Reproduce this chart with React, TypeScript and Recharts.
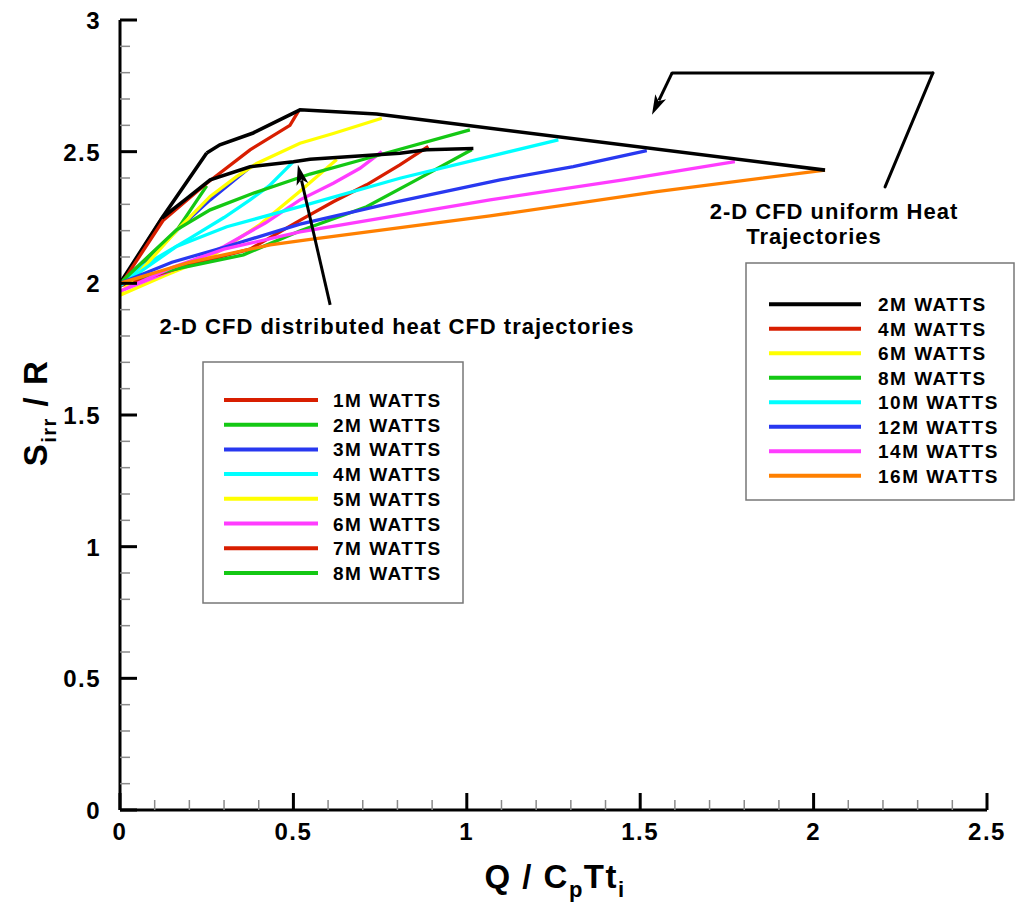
import React from 'react';
import { LineChart, Line, XAxis, YAxis, ReferenceLine } from 'recharts';

const FONT = '"Liberation Sans", Arial, Helvetica, sans-serif';

const RED = '#d81e00';
const GREEN = '#14c814';
const BLUE = '#2838f0';
const CYAN = '#00ffff';
const YELLOW = '#ffff00';
const MAGENTA = '#ff3cff';
const ORANGE = '#ff8000';
const BLACK = '#000000';

// Axis ticks
const X_TICKS = [0, 0.1, 0.2, 0.3, 0.4, 0.5, 0.6, 0.7, 0.8, 0.9, 1, 1.1, 1.2, 1.3, 1.4, 1.5, 1.6, 1.7, 1.8, 1.9, 2, 2.1, 2.2, 2.3, 2.4, 2.5];
const Y_TICKS = [0, 0.1, 0.2, 0.3, 0.4, 0.5, 0.6, 0.7, 0.8, 0.9, 1, 1.1, 1.2, 1.3, 1.4, 1.5, 1.6, 1.7, 1.8, 1.9, 2, 2.1, 2.2, 2.3, 2.4, 2.5, 2.6, 2.7, 2.8, 2.9, 3];

// 2-D CFD distributed heat trajectories
const DIST_1M_X = [0, 0.06, 0.121];
const DIST_1M_Y = [1.99, 2.12, 2.248];
const DIST_2M_X = [0, 0.08, 0.163, 0.25];
const DIST_2M_Y = [2.0, 2.09, 2.2, 2.37];
const DIST_3M_X = [0, 0.163, 0.26, 0.37];
const DIST_3M_Y = [2.0, 2.2, 2.317, 2.435];
const DIST_4M_X = [0, 0.067, 0.2, 0.3, 0.375, 0.43, 0.5];
const DIST_4M_Y = [1.99, 2.066, 2.17, 2.25, 2.317, 2.37, 2.462];
const DIST_5M_X = [0, 0.13, 0.26, 0.4, 0.519, 0.625];
const DIST_5M_Y = [1.955, 2.03, 2.1, 2.22, 2.35, 2.47];
const DIST_6M_X = [0, 0.15, 0.3, 0.42, 0.519, 0.615, 0.692, 0.755];
const DIST_6M_Y = [1.97, 2.05, 2.14, 2.23, 2.317, 2.38, 2.437, 2.5];
const DIST_7M_X = [0, 0.2, 0.375, 0.52, 0.615, 0.711, 0.807, 0.889];
const DIST_7M_Y = [1.99, 2.07, 2.13, 2.24, 2.31, 2.374, 2.45, 2.52];
const DIST_8M_X = [0, 0.18, 0.356, 0.52, 0.711, 0.855, 1.014];
const DIST_8M_Y = [2.005, 2.06, 2.108, 2.2, 2.291, 2.393, 2.507];

// 2-D CFD uniform heat trajectories
const UNI_2M_X = [0, 0.121, 0.25];
const UNI_2M_Y = [2.0, 2.248, 2.495];
const UNI_4M_X = [0, 0.125, 0.25, 0.375, 0.49, 0.515];
const UNI_4M_Y = [1.99, 2.24, 2.38, 2.507, 2.6, 2.655];
const UNI_6M_X = [0, 0.163, 0.26, 0.336, 0.394, 0.519, 0.615, 0.755];
const UNI_6M_Y = [1.96, 2.2, 2.33, 2.405, 2.455, 2.532, 2.569, 2.627];
const UNI_8M_X = [0, 0.08, 0.163, 0.26, 0.384, 0.548, 0.711, 1.009];
const UNI_8M_Y = [2.0, 2.1, 2.203, 2.279, 2.342, 2.415, 2.474, 2.583];
const UNI_10M_X = [0, 0.163, 0.308, 0.519, 0.807, 1.067, 1.264];
const UNI_10M_Y = [1.99, 2.14, 2.215, 2.291, 2.399, 2.482, 2.545];
const UNI_12M_X = [0, 0.15, 0.308, 0.519, 0.8, 1.096, 1.307, 1.519];
const UNI_12M_Y = [2.0, 2.08, 2.14, 2.225, 2.31, 2.393, 2.443, 2.504];
const UNI_14M_X = [0, 0.15, 0.3, 0.519, 1.067, 1.451, 1.773];
const UNI_14M_Y = [1.97, 2.06, 2.13, 2.195, 2.317, 2.393, 2.462];
const UNI_16M_X = [0, 0.2, 0.433, 0.538, 1.067, 1.548, 2.033];
const UNI_16M_Y = [2.0, 2.08, 2.146, 2.165, 2.256, 2.348, 2.43];

// Envelopes (end-points of trajectories)
const UPPER_ENV_X = [0.25, 0.288, 0.384, 0.519, 0.74, 2.033];
const UPPER_ENV_Y = [2.495, 2.526, 2.571, 2.659, 2.643, 2.43];
const LOWER_ENV_X = [0.121, 0.192, 0.26, 0.375, 0.5, 0.548, 0.807, 0.884, 1.019];
const LOWER_ENV_Y = [2.248, 2.322, 2.393, 2.443, 2.462, 2.471, 2.494, 2.507, 2.512];

// Annotation arrows (data coordinates)
const ARROW_DIST = [{ x: 0.606, y: 1.918 }, { x: 0.513, y: 2.45 }];
const ARROW_UNI_PATH = [
  { x: 2.206, y: 2.366 },
  { x: 2.344, y: 2.799 },
  { x: 1.592, y: 2.799 },
  { x: 1.534, y: 2.64 },
];

const toPts = (xs: number[], ys: number[]) => xs.map((x, i) => ({ x, y: ys[i] }));

const DIST_SERIES = [
  { name: '1M WATTS', color: RED, data: toPts(DIST_1M_X, DIST_1M_Y) },
  { name: '2M WATTS', color: GREEN, data: toPts(DIST_2M_X, DIST_2M_Y) },
  { name: '3M WATTS', color: BLUE, data: toPts(DIST_3M_X, DIST_3M_Y) },
  { name: '4M WATTS', color: CYAN, data: toPts(DIST_4M_X, DIST_4M_Y) },
  { name: '5M WATTS', color: YELLOW, data: toPts(DIST_5M_X, DIST_5M_Y) },
  { name: '6M WATTS', color: MAGENTA, data: toPts(DIST_6M_X, DIST_6M_Y) },
  { name: '7M WATTS', color: RED, data: toPts(DIST_7M_X, DIST_7M_Y) },
  { name: '8M WATTS', color: GREEN, data: toPts(DIST_8M_X, DIST_8M_Y) },
];

const UNI_SERIES = [
  { name: '2M WATTS', color: BLACK, data: toPts(UNI_2M_X, UNI_2M_Y) },
  { name: '4M WATTS', color: RED, data: toPts(UNI_4M_X, UNI_4M_Y) },
  { name: '6M WATTS', color: YELLOW, data: toPts(UNI_6M_X, UNI_6M_Y) },
  { name: '8M WATTS', color: GREEN, data: toPts(UNI_8M_X, UNI_8M_Y) },
  { name: '10M WATTS', color: CYAN, data: toPts(UNI_10M_X, UNI_10M_Y) },
  { name: '12M WATTS', color: BLUE, data: toPts(UNI_12M_X, UNI_12M_Y) },
  { name: '14M WATTS', color: MAGENTA, data: toPts(UNI_14M_X, UNI_14M_Y) },
  { name: '16M WATTS', color: ORANGE, data: toPts(UNI_16M_X, UNI_16M_Y) },
];

const isMajor = (v: number) => Math.abs(v * 2 - Math.round(v * 2)) < 1e-6;

const tickText = { fontFamily: FONT, fontWeight: 'bold' as const, fontSize: 24, letterSpacing: 1.5, fill: '#000' };

const XTick = (props: any) => {
  const { x, y, payload } = props;
  const v = payload.value;
  const major = isMajor(v);
  return (
    <g>
      <line x1={x} y1={y} x2={x} y2={y - (major ? 17 : 10)} stroke={major ? '#000' : '#8a8a8a'} strokeWidth={major ? 3 : 1.5} />
      {major && (
        <text x={x} y={y + 30} textAnchor="middle" {...tickText}>
          {String(v)}
        </text>
      )}
    </g>
  );
};

const YTick = (props: any) => {
  const { x, y, payload } = props;
  const v = payload.value;
  const major = isMajor(v);
  return (
    <g>
      <line x1={x} y1={y} x2={x + (major ? 17 : 10)} y2={y} stroke={major ? '#000' : '#8a8a8a'} strokeWidth={major ? 3 : 1.5} />
      {major && (
        <text x={x - 19} y={y + 9} textAnchor="end" {...tickText}>
          {String(v)}
        </text>
      )}
    </g>
  );
};

const ArrowShape = (props: any) => {
  const { x1, y1, x2, y2 } = props;
  const ang = Math.atan2(y2 - y1, x2 - x1);
  const L = 20;
  const W = 6;
  const bx = x2 - L * Math.cos(ang);
  const by = y2 - L * Math.sin(ang);
  const px = -Math.sin(ang) * W;
  const py = Math.cos(ang) * W;
  return (
    <g>
      <line x1={x1} y1={y1} x2={x2 - (L - 4) * Math.cos(ang)} y2={y2 - (L - 4) * Math.sin(ang)} stroke="#000" strokeWidth={3} />
      <polygon points={`${x2},${y2} ${bx + px},${by + py} ${bx + 5 * Math.cos(ang)},${by + 5 * Math.sin(ang)} ${bx - px},${by - py}`} fill="#000" />
    </g>
  );
};

const PlainSeg = (props: any) => {
  const { x1, y1, x2, y2 } = props;
  return <line x1={x1} y1={y1} x2={x2} y2={y2} stroke="#000" strokeWidth={3} strokeLinecap="round" />;
};

const legendText = { fontFamily: FONT, fontWeight: 'bold' as const, fontSize: 19, letterSpacing: 1.5, fill: '#000' };
const noteText = { fontFamily: FONT, fontWeight: 'bold' as const, fontSize: 22, letterSpacing: 1, fill: '#000' };

const Legends = () => (
  <svg width={1023} height={903} style={{ position: 'absolute', left: 0, top: 0, pointerEvents: 'none' }}>
    {/* distributed legend */}
    <rect x={203} y={362} width={260} height={241} fill="#fff" stroke="#777" strokeWidth={1.5} />
    {DIST_SERIES.map((s, i) => (
      <g key={'d' + i}>
        <line x1={224} x2={318} y1={400 + i * 24.7} y2={400 + i * 24.7} stroke={s.color} strokeWidth={4} />
        <text x={333} y={400 + i * 24.7 + 7} {...legendText}>{s.name}</text>
      </g>
    ))}
    {/* uniform legend */}
    <rect x={746} y={263} width={268} height={237} fill="#fff" stroke="#777" strokeWidth={1.5} />
    {UNI_SERIES.map((s, i) => (
      <g key={'u' + i}>
        <line x1={769} x2={861} y1={304.3 + i * 24.5} y2={304.3 + i * 24.5} stroke={s.color} strokeWidth={4} />
        <text x={878} y={304.3 + i * 24.5 + 7} {...legendText}>{s.name}</text>
      </g>
    ))}
    {/* annotations */}
    <text x={397} y={334} textAnchor="middle" {...noteText}>
      2-D CFD distributed heat CFD trajectories
    </text>
    <text x={834} y={219} textAnchor="middle" {...noteText}>
      2-D CFD uniform Heat
    </text>
    <text x={814} y={244} textAnchor="middle" {...noteText}>
      Trajectories
    </text>
    {/* axis titles */}
    <text x={555} y={888} textAnchor="middle" fontFamily={FONT} fontWeight="bold" fontSize={33} letterSpacing={1.5} fill="#000">
      Q / C<tspan fontSize={22} dy={9}>p</tspan><tspan dy={-9}>Tt</tspan><tspan fontSize={22} dy={9}>i</tspan>
    </text>
    <text transform="translate(47,413) rotate(-90)" textAnchor="middle" fontFamily={FONT} fontWeight="bold" fontSize={33} letterSpacing={1.5} fill="#000">
      S<tspan fontSize={20} dy={9}>irr</tspan><tspan dy={-9}> / R</tspan>
    </text>
  </svg>
);

export default function App() {
  return (
    <div style={{ position: 'absolute', left: 0, top: 0, width: 1023, height: 903, background: '#fff' }}>
      <LineChart width={1023} height={903} margin={{ top: 20, right: 36, bottom: 0, left: 0 }}>
        <XAxis
          type="number"
          dataKey="x"
          domain={[0, 2.5]}
          ticks={X_TICKS}
          interval={0}
          tickSize={0}
          tickMargin={0}
          height={93}
          axisLine={{ stroke: '#000', strokeWidth: 3 }}
          tickLine={false}
          tick={(p: any) => <XTick {...p} />}
          allowDataOverflow
        />
        <YAxis
          type="number"
          dataKey="y"
          domain={[0, 3]}
          ticks={Y_TICKS}
          interval={0}
          tickSize={0}
          tickMargin={0}
          width={120}
          axisLine={{ stroke: '#000', strokeWidth: 3 }}
          tickLine={false}
          tick={(p: any) => <YTick {...p} />}
          allowDataOverflow
        />
        {DIST_SERIES.map((s, i) => (
          <Line key={'dist' + i} data={s.data} dataKey="y" type="linear" stroke={s.color} strokeWidth={3.3} dot={false} isAnimationActive={false} />
        ))}
        {UNI_SERIES.map((s, i) => (
          <Line key={'uni' + i} data={s.data} dataKey="y" type="linear" stroke={s.color} strokeWidth={s.color === BLACK ? 3.6 : 3.3} dot={false} isAnimationActive={false} />
        ))}
        <Line data={toPts(UPPER_ENV_X, UPPER_ENV_Y)} dataKey="y" type="linear" stroke={BLACK} strokeWidth={3.6} dot={false} isAnimationActive={false} />
        <Line data={toPts(LOWER_ENV_X, LOWER_ENV_Y)} dataKey="y" type="linear" stroke={BLACK} strokeWidth={3.6} dot={false} isAnimationActive={false} />
        <ReferenceLine segment={ARROW_DIST} shape={(p: any) => <ArrowShape {...p} />} ifOverflow="visible" />
        <ReferenceLine segment={[ARROW_UNI_PATH[0], ARROW_UNI_PATH[1]]} shape={(p: any) => <PlainSeg {...p} />} ifOverflow="visible" />
        <ReferenceLine segment={[ARROW_UNI_PATH[1], ARROW_UNI_PATH[2]]} shape={(p: any) => <PlainSeg {...p} />} ifOverflow="visible" />
        <ReferenceLine segment={[ARROW_UNI_PATH[2], ARROW_UNI_PATH[3]]} shape={(p: any) => <ArrowShape {...p} />} ifOverflow="visible" />
      </LineChart>
      <Legends />
    </div>
  );
}
